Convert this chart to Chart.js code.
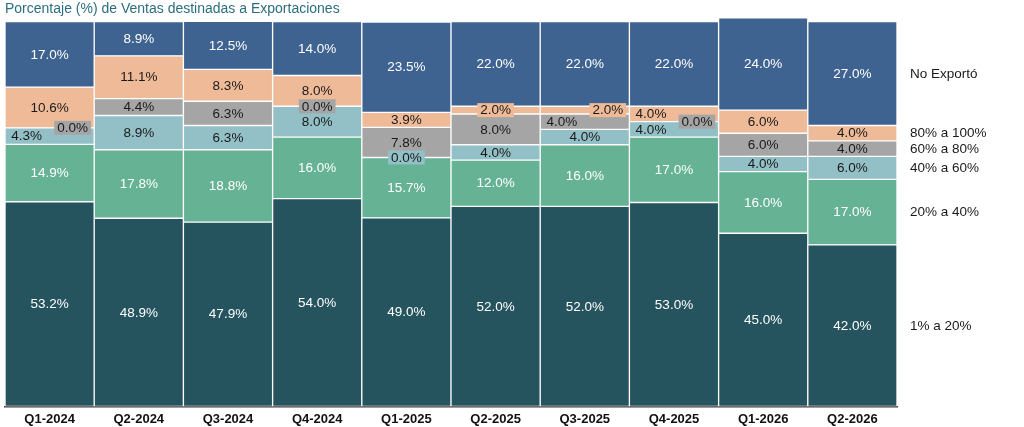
<!DOCTYPE html>
<html>
<head>
<meta charset="utf-8">
<script src="https://cdn.jsdelivr.net/npm/chart.js@4"></script>
<style>
  html, body { margin: 0; padding: 0; background: #fff; }
  #wrap { width: 1024px; height: 427px; }
</style>
</head>
<body>
<div id="wrap"><canvas id="exportChart"></canvas></div>
<script>
const categories = ['Q1-2024', 'Q2-2024', 'Q3-2024', 'Q4-2024', 'Q1-2025', 'Q2-2025', 'Q3-2025', 'Q4-2025', 'Q1-2026', 'Q2-2026'];
const seriesNames = ['1% a 20%', '20% a 40%', '40% a 60%', '60% a 80%', '80% a 100%', 'No Exportó'];

const pct1a20 = [53.2, 48.9, 47.9, 54.0, 49.0, 52.0, 52.0, 53.0, 45.0, 42.0];
const pct20a40 = [14.9, 17.8, 18.8, 16.0, 15.7, 12.0, 16.0, 17.0, 16.0, 17.0];
const pct40a60 = [4.3, 8.9, 6.3, 8.0, 0.0, 4.0, 4.0, 4.0, 4.0, 6.0];
const pct60a80 = [0.0, 4.4, 6.3, 0.0, 7.8, 8.0, 4.0, 0.0, 6.0, 4.0];
const pct80a100 = [10.6, 11.1, 8.3, 8.0, 3.9, 2.0, 2.0, 4.0, 6.0, 4.0];
const noExporto = [17.0, 8.9, 12.5, 14.0, 23.5, 22.0, 22.0, 22.0, 24.0, 27.0];

const seriesValues = [pct1a20, pct20a40, pct40a60, pct60a80, pct80a100, noExporto];
const colors = ['#25535e', '#66b294', '#93bfc6', '#a5a5a5', '#efba98', '#3f6391'];
const textColors = ['#ffffff', '#ffffff', '#1a1a1a', '#1a1a1a', '#1a1a1a', '#ffffff'];

// label nudges (-1 left, +1 right) where labels would collide
const labelNudge = [
  [0, 0, 0, 0, 0, 0, 0, 0, 0, 0],
  [0, 0, 0, 0, 0, 0, 0, 0, 0, 0],
  [-1, 0, 0, 0, 0, 0, 0, -1, 0, 0],
  [1, 0, 0, 0, 0, 0, -1, 1, 0, 0],
  [0, 0, 0, 0, 0, 0, 1, -1, 0, 0],
  [0, 0, 0, 0, 0, 0, 0, 0, 0, 0]
];

const FONT = '"Liberation Sans", Arial, Helvetica, sans-serif';

const segmentLabels = {
  id: 'segmentLabels',
  afterDatasetsDraw(chart) {
    const ctx = chart.ctx;
    ctx.save();
    ctx.font = '13.5px ' + FONT;
    ctx.textAlign = 'center';
    ctx.textBaseline = 'middle';
    chart.data.datasets.forEach((ds, i) => {
      const meta = chart.getDatasetMeta(i);
      meta.data.forEach((bar, j) => {
        const txt = ds.data[j].toFixed(1) + '%';
        const h = Math.abs(bar.base - bar.y);
        const cx = bar.x + labelNudge[i][j] * 23;
        const cy = (bar.y + bar.base) / 2;
        if (h < 12) {
          const w = ctx.measureText(txt).width + 6;
          ctx.fillStyle = colors[i];
          ctx.fillRect(cx - w / 2, cy - 7, w, 14);
        }
        ctx.fillStyle = textColors[i];
        ctx.fillText(txt, cx, cy + 0.5);
      });
    });

    // series names beside the last bar
    ctx.textAlign = 'left';
    ctx.fillStyle = '#1a1a1a';
    const last = categories.length - 1;
    chart.data.datasets.forEach((ds, i) => {
      const bar = chart.getDatasetMeta(i).data[last];
      ctx.fillText(seriesNames[i], chart.chartArea.right + 13, (bar.y + bar.base) / 2 + 0.5);
    });
    ctx.restore();
  }
};

const ctxBar = document.getElementById('exportChart').getContext('2d');
new Chart(ctxBar, {
  type: 'bar',
  data: {
    labels: categories,
    datasets: seriesValues.map((vals, i) => ({
      label: seriesNames[i],
      data: vals,
      backgroundColor: colors[i],
      borderColor: 'rgba(255,255,255,0.9)',
      borderWidth: 1,
      borderSkipped: false,
      barPercentage: 1,
      categoryPercentage: 1
    }))
  },
  options: {
    responsive: true,
    maintainAspectRatio: false,
    animation: false,
    layout: { padding: { left: 5, right: 127, top: 0, bottom: -5 } },
    plugins: {
      legend: { display: false },
      tooltip: { enabled: false },
      title: {
        display: true,
        text: 'Porcentaje (%) de Ventas destinadas a Exportaciones',
        align: 'start',
        color: '#2b6e7e',
        font: { family: FONT, size: 14, weight: 'normal' },
        padding: { top: 1, bottom: 0 }
      }
    },
    scales: {
      x: {
        stacked: true,
        grid: { display: false, drawTicks: false },
        border: { display: true, color: '#3a3a3a', width: 1.5 },
        ticks: { color: '#111', padding: 5, font: { family: FONT, size: 13, weight: 'bold' } }
      },
      y: {
        stacked: true,
        display: false,
        min: 0,
        max: 101
      }
    }
  },
  plugins: [segmentLabels]
});
</script>
</body>
</html>
